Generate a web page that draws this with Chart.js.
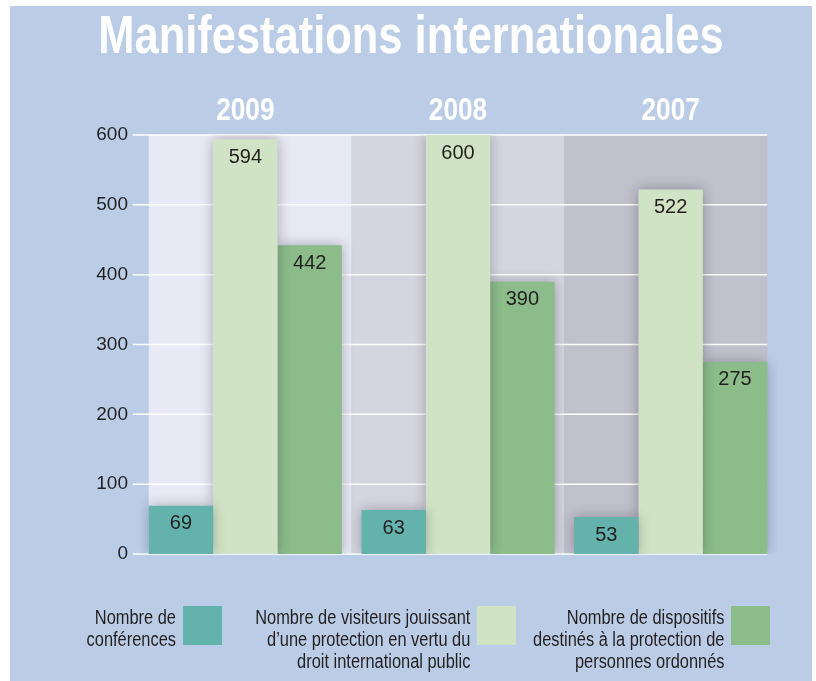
<!DOCTYPE html>
<html>
<head>
<meta charset="utf-8">
<script src="https://cdn.jsdelivr.net/npm/chart.js@4.4.1/dist/chart.umd.min.js"></script>
<style>
    body { margin: 0; background: #fff; width: 816px; height: 681px; overflow: hidden; position: relative; }
    #panel { position: absolute; left: 10px; top: 6px; width: 802px; height: 675px; background: #bbcde6; }
    #chart { position: absolute; left: 0; top: 0; }
    .legend-item { position: absolute; top: 600px; display: flex; align-items: flex-start; gap: 7px; }
    .legend-text { text-align: right; font-family: 'Liberation Sans', Arial, sans-serif; font-size: 20px; line-height: 22px; color: #231f20; white-space: nowrap; transform: scaleX(0.82); transform-origin: right top; }
    .legend-box { width: 39px; height: 39px; flex: none; }
</style>
</head>
<body>
<div id="panel">
    <canvas id="chart" width="802" height="675"></canvas>
</div>
<script>
// Data
const years = ['2009', '2008', '2007'];
const conferences = [69, 63, 53];
const visiteurs = [594, 600, 522];
const dispositifs = [442, 390, 275];
const yMax = 600;
const yStep = 100;

const titleText = 'Manifestations internationales';
const seriesLabels = [
    ['Nombre de', 'conférences'],
    ['Nombre de visiteurs jouissant', 'd’une protection en vertu du', 'droit international public'],
    ['Nombre de dispositifs', 'destinés à la protection de', 'personnes ordonnés']
];
const seriesColors = ['#63b3ac', '#d0e4c5', '#8bbc8a'];
const bandColors = ['#e8e9f4', '#d4d5df', '#c0c1cb'];

// Layout bits
const CAT_PCT = 0.908;
const NARROW = 0.82; // no condensed face installed, squeeze the regular one
const plain = "'Liberation Sans', Arial, sans-serif";
const ink = '#231f20';
const legendBoxLeft = [173, 467, 721]; // panel coords

// Shaded year bands + white grid lines behind the bars
const bandsPlugin = {
    id: 'bands',
    beforeDatasetsDraw(chart) {
        const { ctx, scales: { x, y } } = chart;
        const n = years.length;
        const half = (x.width / n) * CAT_PCT / 2;
        const centers = years.map((_, i) => x.getPixelForValue(i));
        const left = centers[0] - half;
        const right = centers[n - 1] + half;
        const top = y.getPixelForValue(yMax);
        const bottom = y.getPixelForValue(0);
        ctx.save();
        for (let i = 0; i < n; i++) {
            const a = i === 0 ? left : (centers[i - 1] + centers[i]) / 2;
            const b = i === n - 1 ? right : (centers[i] + centers[i + 1]) / 2;
            ctx.fillStyle = bandColors[i];
            ctx.fillRect(a, top, b - a, bottom - top);
        }
        ctx.strokeStyle = '#ffffff';
        ctx.lineWidth = 1.5;
        y.ticks.forEach(t => {
            const py = y.getPixelForValue(t.value);
            ctx.beginPath();
            ctx.moveTo(left - 16, py);
            ctx.lineTo(right, py);
            ctx.stroke();
        });
        ctx.restore();
    }
};

// Soft drop shadow on the bars
const shadowPlugin = {
    id: 'barShadow',
    beforeDatasetDraw(chart) {
        const ctx = chart.ctx;
        ctx.save();
        ctx.shadowColor = 'rgba(20, 20, 40, 0.3)';
        ctx.shadowBlur = 12;
        ctx.shadowOffsetX = 0;
        ctx.shadowOffsetY = 0;
    },
    afterDatasetDraw(chart) {
        chart.ctx.restore();
    }
};

// Values written inside the top of each bar
const valuesPlugin = {
    id: 'values',
    afterDatasetsDraw(chart) {
        const ctx = chart.ctx;
        ctx.save();
        ctx.font = `20px ${plain}`;
        ctx.fillStyle = ink;
        ctx.textAlign = 'center';
        ctx.textBaseline = 'middle';
        chart.data.datasets.forEach((ds, di) => {
            chart.getDatasetMeta(di).data.forEach((bar, i) => {
                ctx.fillText(String(ds.data[i]), bar.x, bar.y + 18);
            });
        });
        ctx.restore();
    }
};

// Title and year headings in a squeezed bold face
const headingsPlugin = {
    id: 'headings',
    afterDraw(chart) {
        const { ctx, scales: { x } } = chart;
        const drawNarrow = (text, cx, baseline, size) => {
            ctx.save();
            ctx.font = `bold ${size}px ${plain}`;
            ctx.translate(cx, baseline);
            ctx.scale(NARROW, 1);
            ctx.fillText(text, 0, 0);
            ctx.restore();
        };
        ctx.save();
        ctx.fillStyle = '#ffffff';
        ctx.textAlign = 'center';
        ctx.textBaseline = 'alphabetic';
        drawNarrow(titleText, chart.width / 2, 47, 53);
        years.forEach((yr, i) => drawNarrow(yr, x.getPixelForValue(i), 114, 32));
        ctx.restore();
    }
};

const seriesData = [conferences, visiteurs, dispositifs];

new Chart(document.getElementById('chart'), {
    type: 'bar',
    data: {
        labels: years,
        datasets: seriesData.map((d, i) => ({
            label: seriesLabels[i].join(' '),
            data: d,
            backgroundColor: seriesColors[i],
            borderWidth: 0,
            categoryPercentage: CAT_PCT,
            barPercentage: 1
        }))
    },
    options: {
        responsive: false,
        animation: false,
        layout: { padding: { left: 36, right: 35, top: 0, bottom: 127 } },
        plugins: {
            legend: { display: false },
            tooltip: { enabled: false },
            title: { display: false }
        },
        scales: {
            x: {
                position: 'top',
                grid: { display: false, drawTicks: false },
                border: { display: false },
                ticks: { display: false },
                afterFit: s => { s.height = 129; }
            },
            y: {
                min: 0,
                max: yMax,
                grid: { display: false, drawTicks: false },
                border: { display: false },
                ticks: {
                    stepSize: yStep,
                    padding: 11,
                    color: ink,
                    font: { family: plain, size: 19 }
                },
                afterFit: s => { s.width = 93; }
            }
        }
    },
    plugins: [bandsPlugin, shadowPlugin, valuesPlugin, headingsPlugin]
});

// HTML legend, box on the right of right-aligned text
const panel = document.getElementById('panel');
seriesLabels.forEach((lines, i) => {
    const item = document.createElement('div');
    item.className = 'legend-item';
    item.style.right = (802 - (legendBoxLeft[i] + 39)) + 'px';
    item.innerHTML = `<div class="legend-text">${lines.join('<br>')}</div>
        <div class="legend-box" style="background:${seriesColors[i]}"></div>`;
    panel.appendChild(item);
});
</script>
</body>
</html>
